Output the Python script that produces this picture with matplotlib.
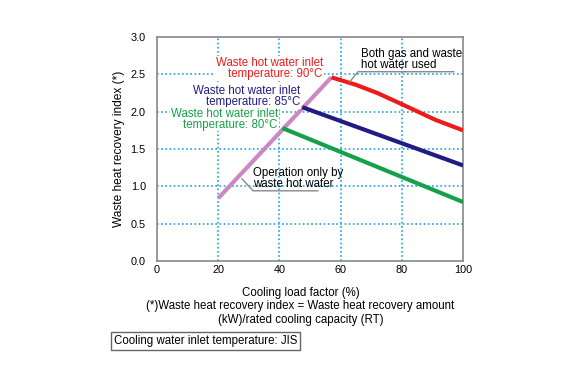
import matplotlib
matplotlib.use('Agg')
import matplotlib.pyplot as plt

plt.rcParams['font.family'] = ['Liberation Sans', 'DejaVu Sans']

# load factor (%) vs waste heat recovery index
only_x = [20, 57]
only_y = [0.84, 2.46]
t90_x = [57, 65, 72, 80, 91, 100]
t90_y = [2.46, 2.36, 2.25, 2.10, 1.89, 1.75]
t85_x = [47.5, 100]
t85_y = [2.06, 1.28]
t80_x = [41, 100]
t80_y = [1.78, 0.79]

xticks = [0, 20, 40, 60, 80, 100]
yticks = [0.0, 0.5, 1.0, 1.5, 2.0, 2.5, 3.0]

fig = plt.figure(figsize=(5.8, 3.86), dpi=100)
ax = fig.add_axes([157/580, 1 - 261/386, 306/580, 224/386])

grid_c = '#1aa3e0'
for x in [20, 40, 60, 80]:
    ax.axvline(x, color=grid_c, linestyle=(0, (1, 1.5)), linewidth=1.2, zorder=1)
for y in [0.5, 1.0, 1.5, 2.0, 2.5]:
    ax.axhline(y, color=grid_c, linestyle=(0, (1, 1.5)), linewidth=1.2, zorder=1)

ax.plot(only_x, only_y, color='#cc88c4', linewidth=3, solid_capstyle='butt', zorder=3)
ax.plot(t90_x, t90_y, color='#ee1b1b', linewidth=3, solid_capstyle='butt', zorder=3)
ax.plot(t85_x, t85_y, color='#221c82', linewidth=3, solid_capstyle='butt', zorder=3)
ax.plot(t80_x, t80_y, color='#17a04a', linewidth=3, solid_capstyle='butt', zorder=3)

ax.set_xlim(0, 100)
ax.set_ylim(0, 3.0)
ax.set_xticks(xticks)
ax.set_yticks(yticks)
ax.set_xticklabels([str(v) for v in xticks])
ax.set_yticklabels(['%.1f' % v for v in yticks])
ax.tick_params(length=0, labelsize=7.8)
ax.tick_params(axis='x', pad=3)
ax.tick_params(axis='y', pad=8)
for s in ax.spines.values():
    s.set_color('#888888')
    s.set_linewidth(1.2)

ax.set_ylabel('Waste heat recovery index (*)', fontsize=8.6, labelpad=4)
ax.set_xlabel('Cooling load factor (%)\n(*)Waste heat recovery index = Waste heat recovery amount\n(kW)/rated cooling capacity (RT)',
              fontsize=8.3, linespacing=1.15)
# the caption sits a little left of the axes centre
ax.xaxis.set_label_coords((300.5 - 157) / 306, -(287 - 261) / 224)
ax.xaxis.label.set_va('top')

fs = 8.3
ax.text(54.2, 2.58, 'Waste hot water inlet\ntemperature: 90°C', color='#ee1b1b', fontsize=fs,
        ha='right', va='center', linespacing=0.9, zorder=4,
        bbox=dict(facecolor='white', edgecolor='none', pad=0.5))
ax.text(46.7, 2.20, 'Waste hot water inlet\ntemperature: 85°C', color='#221c82', fontsize=fs,
        ha='right', va='center', linespacing=0.9, zorder=4,
        bbox=dict(facecolor='white', edgecolor='none', pad=0.5))
ax.text(39.5, 1.90, 'Waste hot water inlet\ntemperature: 80°C', color='#17a04a', fontsize=fs,
        ha='right', va='center', linespacing=0.9, zorder=4,
        bbox=dict(facecolor='white', edgecolor='none', pad=0.5))

ax.text(66.7, 2.70, 'Both gas and waste\nhot water used', fontsize=fs, ha='left', va='center',
        linespacing=0.9, zorder=4)
ax.plot([97, 65.7, 63], [2.535, 2.535, 2.40], color='#888888', linewidth=1, zorder=4)

ax.text(31.4, 1.10, 'Operation only by\nwaste hot water', fontsize=fs, ha='left', va='center',
        linespacing=0.9, zorder=4)
ax.plot([52.6, 31.4, 27.8], [0.94, 0.94, 1.10], color='#888888', linewidth=1, zorder=4)

fig.text(114/580, 1 - 341/386, 'Cooling water inlet temperature: JIS', fontsize=8.3,
         ha='left', va='center',
         bbox=dict(boxstyle='square,pad=0.25', facecolor='white', edgecolor='#666666', linewidth=1))

fig.savefig('out.png', dpi=100)
